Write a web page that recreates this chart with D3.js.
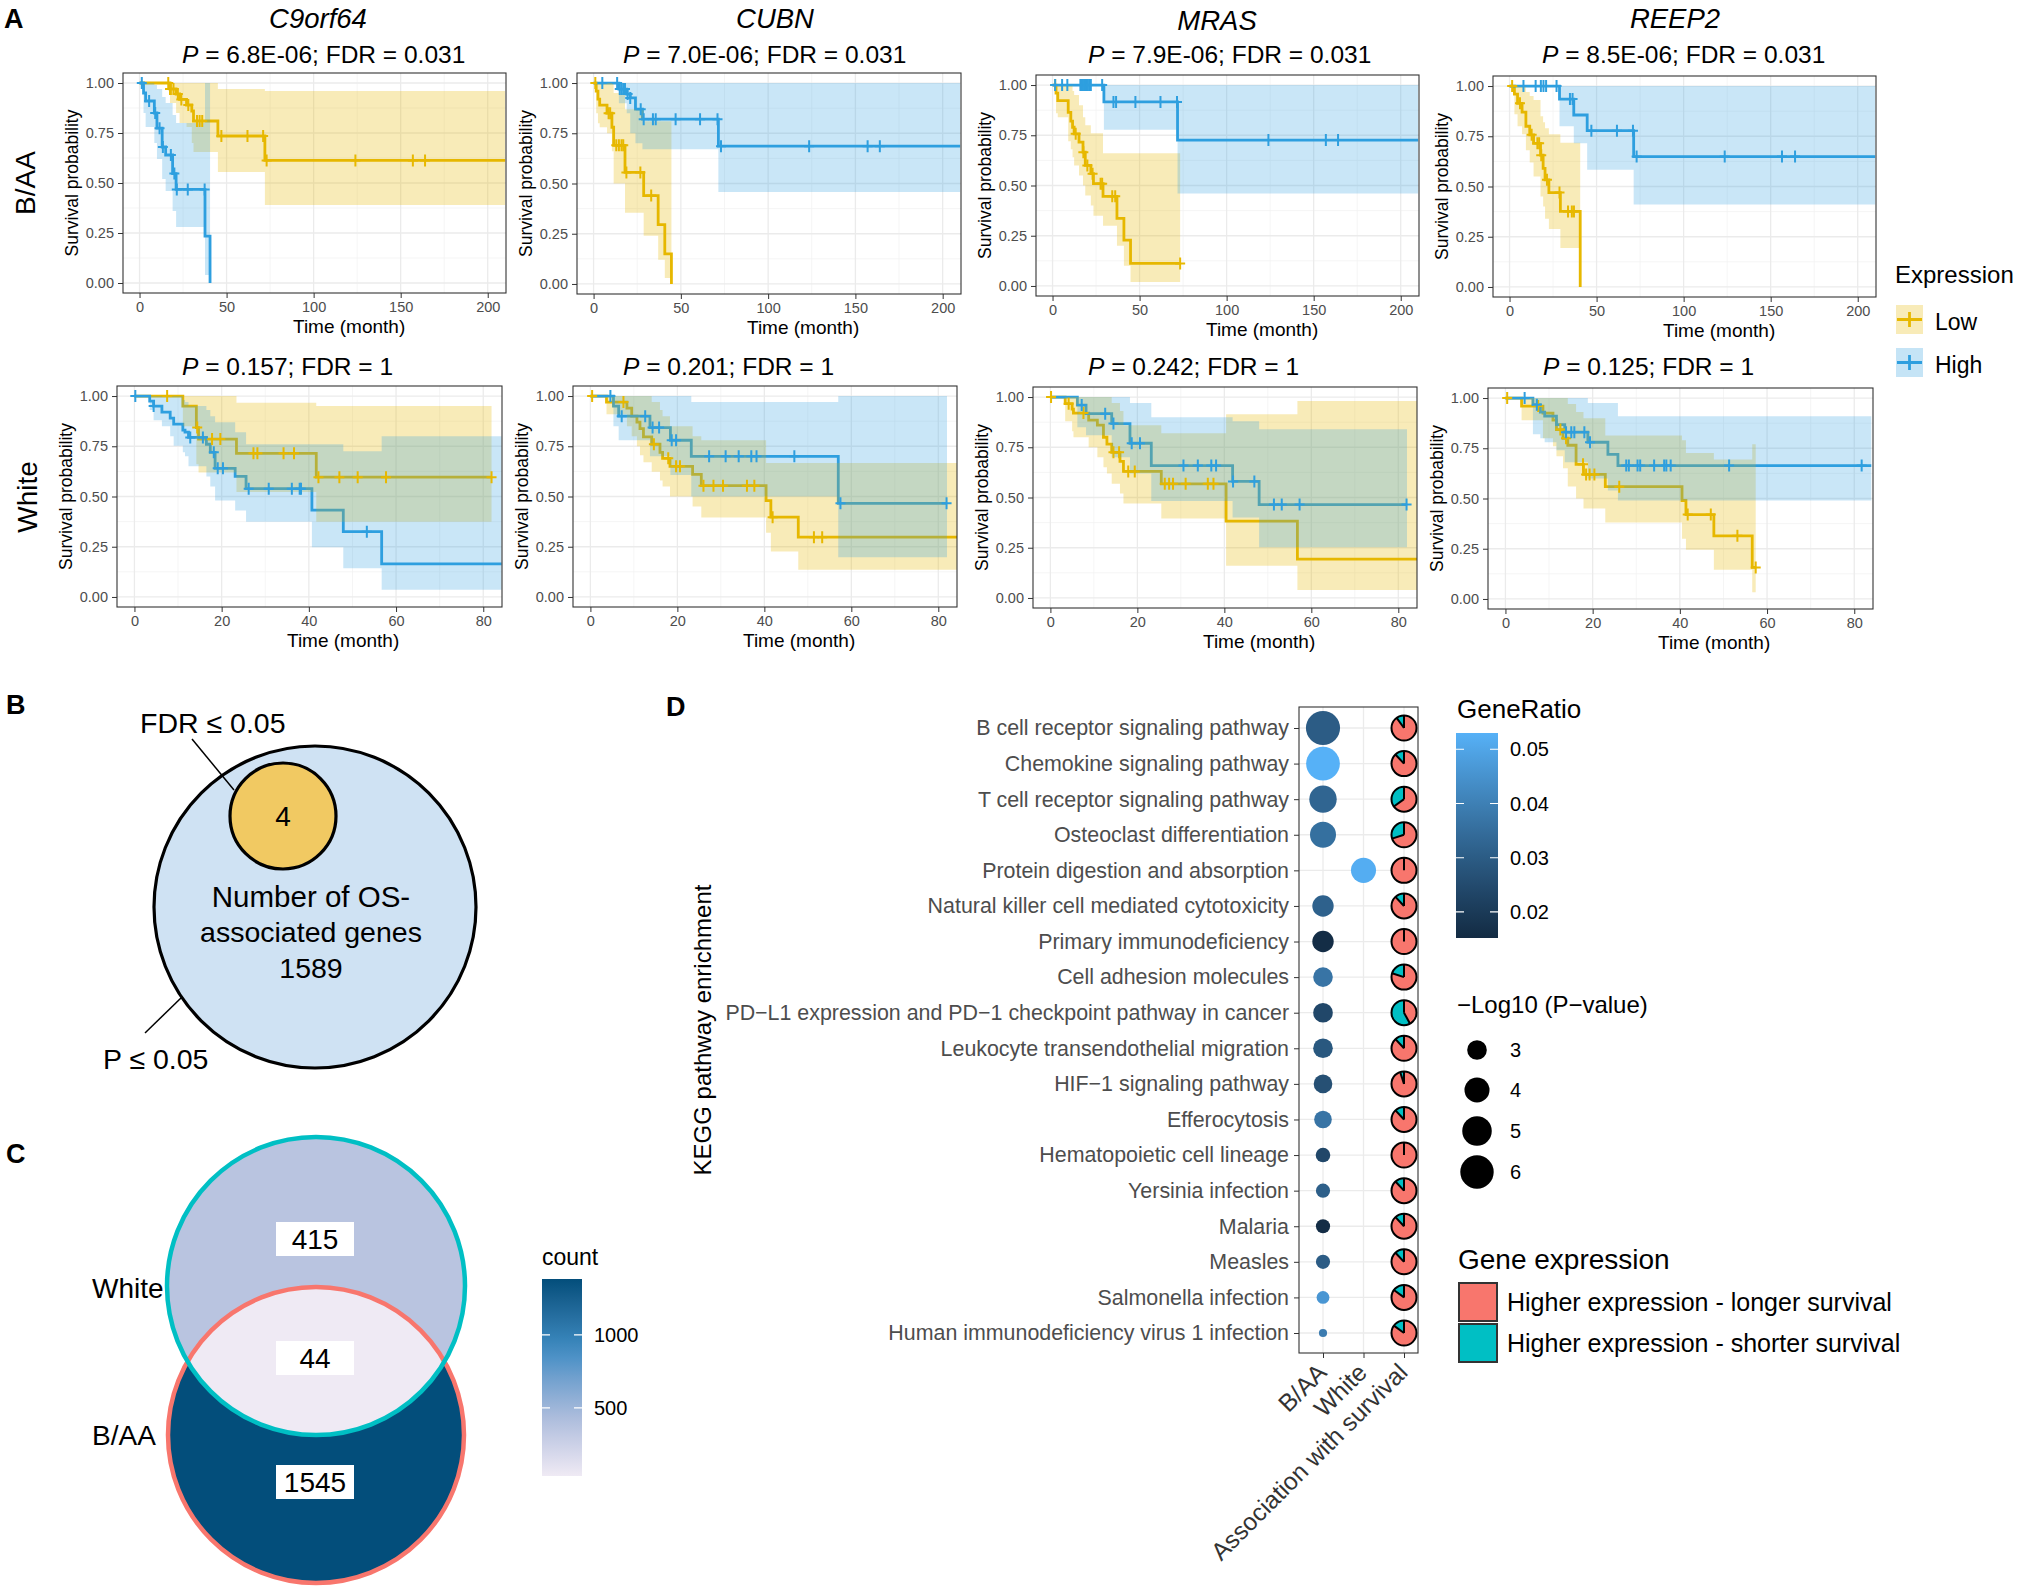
<!DOCTYPE html>
<html><head><meta charset="utf-8">
<script src="https://cdn.jsdelivr.net/npm/d3@7"></script>
<style>body{margin:0;background:#fff}</style>
</head><body><svg id="fig" width="2020" height="1588"></svg>
<script>
const FONT = "'Liberation Sans', Arial, Helvetica, sans-serif";
const LOW_COL = "#E7B800", HIGH_COL = "#2E9FDF";

// ================= DATA =================
// Panel A
const kmGenes = ["C9orf64","CUBN","MRAS","REEP2"];
const kmRows = ["B/AA","White"];
const kmPvalBAA = ["6.8E-06","7.0E-06","7.9E-06","8.5E-06"];
const kmFdrBAA = ["0.031","0.031","0.031","0.031"];
const kmPvalWhite = ["0.157","0.201","0.242","0.125"];
const kmFdrWhite = ["1","1","1","1"];
const kmTicksBAA = [0,50,100,150,200];
const kmTicksWhite = [0,20,40,60,80];
const kmYTicks = [0,0.25,0.5,0.75,1];
const kmGroups = ["Low","High"];
// rows: [time, survival, lower CI, upper CI]
const C9orf64_BAA_Low = [[0,1,1,1],[17.5,0.97,0.90,1],[21,0.945,0.85,1],[23,0.918,0.80,1],[27,0.89,0.78,1],[30,0.86,0.70,1],[31,0.81,0.655,1],[45,0.735,0.555,0.97],[72,0.613,0.39,0.96],[210,0.613,0.39,0.96]];
const C9orf64_BAA_LowCens = [16.5,17.5,18,19.5,22,24,28,33,34.5,36,47,62,71,73,124,157,164];
const C9orf64_BAA_High = [[0,1,1,1],[2.3,0.95,0.85,1],[3.5,0.91,0.78,1],[8.5,0.85,0.70,0.99],[10,0.774,0.62,0.97],[13,0.68,0.52,0.93],[15,0.64,0.46,0.90],[19,0.547,0.36,0.84],[21,0.468,0.28,0.80],[37.6,0.234,0.04,1],[40.5,0,null,null]];
const C9orf64_BAA_HighCens = [1.3,5.5,9,11.5,13.4,18,20,21.4,27.7,37.4];
const CUBN_BAA_Low = [[0,1,1,1],[1.5,0.96,0.85,1],[2.5,0.92,0.80,1],[3.5,0.89,0.78,1],[7.7,0.85,0.75,1],[10.5,0.78,0.66,1],[11.5,0.69,0.50,0.95],[18,0.555,0.355,0.87],[28.7,0.44,0.24,0.81],[37,0.295,0.12,0.81],[40.8,0.15,0.03,0.81],[44.6,0,null,null]];
const CUBN_BAA_LowCens = [1,8.6,9.5,13,14.5,16,17,18.8,26.8,33];
const CUBN_BAA_High = [[0,1,1,1],[14.5,0.97,0.90,1],[19,0.945,0.85,1],[21,0.926,0.75,1],[24,0.87,0.70,1],[28,0.82,0.67,1],[71.5,0.686,0.458,1],[210,0.686,0.458,1]];
const CUBN_BAA_HighCens = [5,13.5,15,16,17,18,19.5,21,27,28.7,34,35.6,47,61,71,73,123.5,157,164];
const MRAS_BAA_Low = [[0,1,1,1],[2,0.96,0.86,1],[3,0.922,0.84,1],[9,0.864,0.72,1],[10.5,0.82,0.68,1],[11.5,0.79,0.64,0.97],[12.4,0.757,0.60,0.95],[15.2,0.716,0.55,0.90],[17.5,0.666,0.50,0.84],[18.8,0.60,0.45,0.80],[22,0.559,0.40,0.76],[23.5,0.509,0.35,0.76],[29,0.446,0.30,0.66],[37,0.336,0.20,0.66],[41,0.228,0.10,0.66],[44.8,0.112,0.02,0.66],[73.3,0.112,0.02,0.66]];
const MRAS_BAA_LowCens = [1.5,13.3,17.7,20,23,27.6,28.5,34.3,36,73.3];
const MRAS_BAA_High = [[0,1,1,1],[29.5,0.916,0.777,1],[71.8,0.726,0.46,1],[210,0.726,0.46,1]];
const MRAS_BAA_HighCens = [1.5,5.5,8.5,16,16.7,17.4,18.1,18.8,19.5,20.2,21,22,28.5,35,36.5,47.6,62,71.5,124,157,164];
const REEP2_BAA_Low = [[0,1,1,1],[2.8,0.96,0.86,1],[4.6,0.914,0.80,1],[7.2,0.87,0.76,1],[9.4,0.80,0.68,0.97],[11.6,0.757,0.62,0.95],[13.8,0.715,0.55,0.93],[17.8,0.656,0.45,0.85],[19.3,0.59,0.40,0.82],[20.4,0.533,0.34,0.79],[22.6,0.47,0.288,0.76],[29.2,0.376,0.194,0.718],[40.6,0,null,null]];
const REEP2_BAA_LowCens = [1.5,6,12.7,16,17,18.2,21.5,28.7,33.6,35.8,37];
const REEP2_BAA_High = [[0,1,1,1],[28.7,0.935,0.80,1],[36.9,0.856,0.715,1],[44.6,0.778,0.583,1],[71.3,0.649,0.41,1],[210,0.649,0.41,1]];
const REEP2_BAA_HighCens = [8,15,18,19.5,21,27,34.7,36.2,47,61.7,70.9,73,123.6,156.5,164];
const C9orf64_White_Low = [[0,1,1,1],[11.1,0.95,0.85,1],[14.2,0.843,0.66,1],[14.7,0.786,0.62,1],[23.4,0.715,0.522,0.967],[41.7,0.596,0.374,0.95],[81.9,0.596,0.374,0.95]];
const C9orf64_White_LowCens = [7.5,14.4,17.8,19.7,27.3,28.2,34.2,36.6,42.2,47,51.2,57.7,81.9];
const C9orf64_White_High = [[0,1,1,1],[3.5,0.975,0.93,1],[4.4,0.95,0.88,1],[6.3,0.92,0.85,1],[8.2,0.89,0.80,1],[9,0.86,0.753,1],[11.1,0.83,0.72,0.98],[11.6,0.82,0.70,0.97],[12.4,0.794,0.65,0.95],[16.5,0.76,0.60,0.93],[17.4,0.72,0.55,0.90],[18.5,0.64,0.48,0.87],[23.1,0.60,0.43,0.82],[25.6,0.539,0.374,0.76],[40.7,0.432,0.247,0.76],[47.9,0.325,0.143,0.725],[56.7,0.165,0.036,0.80],[84.2,0.165,0.036,0.80]];
const C9orf64_White_HighCens = [0.2,4.4,12.8,15.7,18.2,19.1,20.3,26.2,30.8,36.1,37.9,38.2,53.3];
const CUBN_White_Low = [[0,1,1,1],[3.7,0.97,0.91,1],[8.4,0.94,0.85,1],[9.5,0.90,0.80,1],[10.7,0.87,0.75,1],[11.4,0.838,0.705,1],[12.2,0.797,0.67,1],[14.1,0.76,0.623,0.97],[16,0.72,0.58,0.93],[16.6,0.69,0.55,0.90],[18.3,0.65,0.50,0.85],[23.5,0.61,0.45,0.80],[25.5,0.554,0.395,0.78],[40.4,0.479,0.32,0.667],[41.5,0.397,0.226,0.667],[47.8,0.2975,0.136,0.667],[84.3,0.2975,0.136,0.667]];
const CUBN_White_LowCens = [0.4,7.6,14.6,17.9,19.7,20.6,26,28.3,30.5,36,37.7,41.9,51.4,53.3];
const CUBN_White_High = [[0,1,1,1],[5.3,0.95,0.85,1],[6.5,0.90,0.78,1],[13.7,0.843,0.70,1],[18.4,0.78,0.607,1],[23.2,0.70,0.50,0.97],[57,0.466,0.198,1],[82,0.466,0.198,1]];
const CUBN_White_HighCens = [4.6,7.2,12.6,14.3,15.8,18.7,19.7,27.3,31.1,34.1,37,38.2,46.9,57.5,81.9];
const MRAS_White_Low = [[0,1,1,1],[3.4,0.967,0.88,1],[5,0.94,0.83,1],[5.3,0.92,0.80,1],[8.8,0.885,0.75,1],[10.8,0.86,0.70,1],[12.2,0.80,0.65,1],[13,0.766,0.62,1],[14.1,0.725,0.568,0.97],[16,0.68,0.52,0.93],[16.8,0.63,0.47,0.86],[25.5,0.568,0.395,0.82],[40.4,0.382,0.16,0.914],[56.8,0.193,0.04,0.98],[84.3,0.193,0.04,0.98]];
const MRAS_White_LowCens = [0.15,4.2,7.6,14.5,15.8,17.9,19.4,26.3,27.3,28.2,31.1,36.2,37.5];
const MRAS_White_High = [[0,1,1,1],[6.2,0.96,0.85,1],[8.2,0.917,0.81,1],[14.1,0.868,0.70,1],[18.3,0.77,0.62,0.97],[23.2,0.659,0.483,0.90],[41.9,0.58,0.40,0.88],[48,0.465,0.252,0.84],[82,0.465,0.252,0.84]];
const MRAS_White_HighCens = [7.2,12.6,14.5,18.7,20.6,30.6,33.9,37,38.1,42,46.9,51.4,53.2,57.3,81.9];
const REEP2_White_Low = [[0,1,1,1],[3.7,0.96,0.89,1],[8.6,0.925,0.80,1],[10.9,0.89,0.76,1],[11.7,0.843,0.71,1],[13.2,0.80,0.65,1],[14.3,0.765,0.56,0.97],[16.2,0.67,0.50,0.93],[17.9,0.62,0.45,0.90],[22.9,0.559,0.38,0.813],[40.5,0.49,0.30,0.79],[41.4,0.42,0.245,0.727],[47.8,0.314,0.145,0.694],[56.6,0.157,0.033,0.77],[57.4,0.157,0.033,0.77]];
const REEP2_White_LowCens = [0.4,7.5,12.6,13.9,17.8,18.5,19.3,20.4,26.1,41.8,47.1,53.2,57.4];
const REEP2_White_High = [[0,1,1,1],[6.3,0.967,0.82,1],[8,0.93,0.80,1],[9,0.91,0.78,1],[11.7,0.868,0.74,1],[13.6,0.83,0.68,1],[18.9,0.78,0.60,0.975],[23.5,0.72,0.54,0.975],[25.8,0.664,0.49,0.91],[83.9,0.664,0.49,0.91]];
const REEP2_White_HighCens = [4.4,7.2,13.9,15.1,15.8,18.1,19.4,27.7,28.3,30.3,30.9,34.1,36.4,36.9,37.9,51.3,81.7];

// Panel B
const panelBLabels = ["FDR ≤ 0.05","P ≤ 0.05"];
const panelBCounts = [4, 1589];
// Panel C
const vennSets = ["White","B/AA"];
const vennRegionCounts = [415, 44, 1545]; // White only, both, B/AA only
const countTicks = [500, 1000];
// Panel D
const keggPathways = ["B cell receptor signaling pathway","Chemokine signaling pathway","T cell receptor signaling pathway","Osteoclast differentiation","Protein digestion and absorption","Natural killer cell mediated cytotoxicity","Primary immunodeficiency","Cell adhesion molecules","PD\u2212L1 expression and PD\u22121 checkpoint pathway in cancer","Leukocyte transendothelial migration","HIF\u22121 signaling pathway","Efferocytosis","Hematopoietic cell lineage","Yersinia infection","Malaria","Measles","Salmonella infection","Human immunodeficiency virus 1 infection"];
const keggGroup = ["B/AA","B/AA","B/AA","B/AA","White","B/AA","B/AA","B/AA","B/AA","B/AA","B/AA","B/AA","B/AA","B/AA","B/AA","B/AA","B/AA","B/AA"];
const keggGeneRatio = [0.030,0.053,0.0326,0.0356,0.052,0.0315,0.016,0.0368,0.024,0.0288,0.0265,0.0368,0.024,0.031,0.016,0.030,0.046,0.039];
const keggLogP = [6.2,6.1,4.5,4.2,4.0,3.3,3.3,3.0,3.0,3.0,2.85,2.7,2.3,2.25,2.25,2.25,2.1,1.7];
const keggShorterFrac = [0.1,0.12,0.35,0.3,0,0.12,0,0.2,0.58,0.12,0.05,0.12,0,0.12,0.12,0.12,0.15,0.15];
const keggColumns = ["B/AA","White","Association with survival"];
const geneRatioTicks = [0.02,0.03,0.04,0.05];
const logPTicks = [3,4,5,6];
const geneExprLabels = ["Higher expression - longer survival","Higher expression - shorter survival"];

// ================= DRAW =================
const svg = d3.select('#fig').style('font-family', FONT);
const defs = svg.append('defs');

function txt(g, x, y, s, size, opts={}) {
  const t = g.append('text').attr('x',x).attr('y',y).attr('font-size',size)
    .attr('font-family',FONT).attr('fill',opts.fill||'#000').text(s);
  if (opts.anchor) t.attr('text-anchor',opts.anchor);
  if (opts.weight) t.attr('font-weight',opts.weight);
  if (opts.style) t.attr('font-style',opts.style);
  if (opts.rotate!==undefined) t.attr('transform',`rotate(${opts.rotate},${x},${y})`);
  return t;
}

const kmLayout = [
 {x:123,y:73,w:383,h:220},{x:577,y:73,w:384,h:221},{x:1036,y:75,w:383,h:221},{x:1493,y:76,w:383,h:221},
 {x:117,y:386,w:385,h:221},{x:573,y:386,w:384,h:221},{x:1033,y:387,w:384,h:221},{x:1488,y:388,w:385,h:221}];
const pLineX = [182,623,1088,1542,182,623,1088,1543];
const geneTitleX = [318,775,1217,1675];

const kmSeries = [
 [C9orf64_BAA_Low,C9orf64_BAA_LowCens,C9orf64_BAA_High,C9orf64_BAA_HighCens],
 [CUBN_BAA_Low,CUBN_BAA_LowCens,CUBN_BAA_High,CUBN_BAA_HighCens],
 [MRAS_BAA_Low,MRAS_BAA_LowCens,MRAS_BAA_High,MRAS_BAA_HighCens],
 [REEP2_BAA_Low,REEP2_BAA_LowCens,REEP2_BAA_High,REEP2_BAA_HighCens],
 [C9orf64_White_Low,C9orf64_White_LowCens,C9orf64_White_High,C9orf64_White_HighCens],
 [CUBN_White_Low,CUBN_White_LowCens,CUBN_White_High,CUBN_White_HighCens],
 [MRAS_White_Low,MRAS_White_LowCens,MRAS_White_High,MRAS_White_HighCens],
 [REEP2_White_Low,REEP2_White_LowCens,REEP2_White_High,REEP2_White_HighCens]];

function survAt(steps, t){ let s=1; for(const r of steps){ if(r[0]<=t+1e-9) s=r[1]; else break; } return s; }
function ribbonPts(steps){
  const pts=[];
  for(let i=0;i<steps.length;i++){
    const r=steps[i];
    if(r[2]==null){ pts.push([r[0],steps[i-1][2],steps[i-1][3]]); return pts; }
    pts.push([r[0],r[2],r[3]]);
  }
  return pts;
}

kmLayout.forEach((L,i)=>{
  const top = i<4;
  const dom = top ? [-9.5,210.5] : [-4,84.3];
  const ticks = top ? kmTicksBAA : kmTicksWhite;
  const step = ticks[1]-ticks[0];
  const minor = ticks.map(t=>t+step/2).filter(t=>t<dom[1]);
  const xs = d3.scaleLinear().domain(dom).range([L.x, L.x+L.w]);
  const ys = d3.scaleLinear().domain([-0.05,1.05]).range([L.y+L.h, L.y]);
  const g = svg.append('g');
  g.append('rect').attr('x',L.x).attr('y',L.y).attr('width',L.w).attr('height',L.h).attr('fill','#fff');
  const grid = g.append('g');
  minor.forEach(v=>grid.append('line').attr('x1',xs(v)).attr('x2',xs(v)).attr('y1',L.y).attr('y2',L.y+L.h).attr('stroke','#F2F2F2').attr('stroke-width',0.8));
  [0.125,0.375,0.625,0.875].forEach(v=>grid.append('line').attr('y1',ys(v)).attr('y2',ys(v)).attr('x1',L.x).attr('x2',L.x+L.w).attr('stroke','#F2F2F2').attr('stroke-width',0.8));
  ticks.forEach(v=>grid.append('line').attr('x1',xs(v)).attr('x2',xs(v)).attr('y1',L.y).attr('y2',L.y+L.h).attr('stroke','#EBEBEB').attr('stroke-width',1.3));
  kmYTicks.forEach(v=>grid.append('line').attr('y1',ys(v)).attr('y2',ys(v)).attr('x1',L.x).attr('x2',L.x+L.w).attr('stroke','#EBEBEB').attr('stroke-width',1.3));

  const cid='kmclip'+i;
  defs.append('clipPath').attr('id',cid).append('rect').attr('x',L.x).attr('y',L.y).attr('width',L.w).attr('height',L.h);
  const pg = g.append('g').attr('clip-path',`url(#${cid})`);
  const [low,lowC,high,highC] = kmSeries[i];
  const line = d3.line().x(d=>xs(d[0])).y(d=>ys(d[1])).curve(d3.curveStepAfter);
  const area = d3.area().x(d=>xs(d[0])).y0(d=>ys(d[1])).y1(d=>ys(d[2])).curve(d3.curveStepAfter);
  pg.append('path').attr('d',line(low)).attr('fill','none').attr('stroke',LOW_COL).attr('stroke-width',2.8);
  pg.append('path').attr('d',line(high)).attr('fill','none').attr('stroke',HIGH_COL).attr('stroke-width',2.8);
  pg.append('path').attr('d',area(ribbonPts(low))).attr('fill',LOW_COL).attr('fill-opacity',0.28);
  pg.append('path').attr('d',area(ribbonPts(high))).attr('fill',HIGH_COL).attr('fill-opacity',0.26);
  [[low,lowC,LOW_COL],[high,highC,HIGH_COL]].forEach(([st,cs,col])=>{
    cs.forEach(t=>{
      const cx=xs(t), cy=ys(survAt(st,t));
      pg.append('path').attr('d',`M${cx-5},${cy}H${cx+5}M${cx},${cy-6}V${cy+6}`).attr('stroke',col).attr('stroke-width',2);
    });
  });
  g.append('rect').attr('x',L.x).attr('y',L.y).attr('width',L.w).attr('height',L.h).attr('fill','none').attr('stroke','#333').attr('stroke-width',1.1);
  const ax = g.append('g').attr('transform',`translate(0,${L.y+L.h})`)
    .call(d3.axisBottom(xs).tickValues(ticks).tickSize(5).tickPadding(4))
    .attr('font-size',14.5).attr('font-family',FONT);
  ax.select('.domain').remove();
  ax.selectAll('line').attr('stroke','#333');
  ax.selectAll('text').attr('fill','#4D4D4D');
  const ay = g.append('g').attr('transform',`translate(${L.x},0)`)
    .call(d3.axisLeft(ys).tickValues(kmYTicks).tickFormat(d3.format('.2f')).tickSize(5).tickPadding(4))
    .attr('font-size',14.5).attr('font-family',FONT);
  ay.select('.domain').remove();
  ay.selectAll('line').attr('stroke','#333');
  ay.selectAll('text').attr('fill','#4D4D4D');
  txt(g, L.x-45, L.y+L.h/2, 'Survival probability', 17.5, {anchor:'middle', rotate:-90});
  txt(g, L.x+170, L.y+L.h+40, 'Time (month)', 19);
  const pv = top ? kmPvalBAA[i] : kmPvalWhite[i-4];
  const fd = top ? kmFdrBAA[i] : kmFdrWhite[i-4];
  const tt = g.append('text').attr('x',pLineX[i]).attr('y', top?63:375).attr('font-size',24.5).attr('font-family',FONT);
  tt.append('tspan').attr('font-style','italic').text('P');
  tt.append('tspan').text(` = ${pv}; FDR = ${fd}`);
  if (top) txt(g, geneTitleX[i], i===2?30:28, kmGenes[i], 27.5, {anchor:'middle', style:'italic'});
});
txt(svg, 4, 28, 'A', 27, {weight:'bold'});
txt(svg, 35, 183, kmRows[0], 28, {anchor:'middle', rotate:-90});
txt(svg, 37, 497, kmRows[1], 28, {anchor:'middle', rotate:-90});
{
  const g = svg.append('g');
  txt(g, 1895, 283, 'Expression', 24);
  [[LOW_COL,305,kmGroups[0]],[HIGH_COL,348,kmGroups[1]]].forEach(([c,y0,lab])=>{
    g.append('rect').attr('x',1896).attr('y',y0).attr('width',27).attr('height',29).attr('fill',c).attr('fill-opacity',0.28);
    g.append('path').attr('d',`M1897,${y0+14.5}H1922M1909.5,${y0+7}V${y0+22}`).attr('stroke',c).attr('stroke-width',2.8);
    txt(g, 1935, y0+25, lab, 23);
  });
}

// ---------- Panel B ----------
{
  const g = svg.append('g');
  txt(g, 6, 714, 'B', 27, {weight:'bold'});
  g.append('circle').attr('cx',315).attr('cy',907).attr('r',161).attr('fill','#CFE2F3').attr('stroke','#000').attr('stroke-width',3.2);
  g.append('circle').attr('cx',283).attr('cy',816).attr('r',53).attr('fill','#F1C962').attr('stroke','#000').attr('stroke-width',3.2);
  txt(g, 283, 826, String(panelBCounts[0]), 28, {anchor:'middle'});
  txt(g, 311, 907, 'Number of OS-', 29.5, {anchor:'middle'});
  txt(g, 311, 942, 'associated genes', 28.5, {anchor:'middle'});
  txt(g, 311, 978, String(panelBCounts[1]), 28.5, {anchor:'middle'});
  g.append('line').attr('x1',192).attr('y1',739).attr('x2',234).attr('y2',790).attr('stroke','#000').attr('stroke-width',1.5);
  g.append('line').attr('x1',145).attr('y1',1033).attr('x2',182).attr('y2',997).attr('stroke','#000').attr('stroke-width',1.5);
  txt(g, 140, 733, panelBLabels[0], 28.5);
  txt(g, 103, 1069, panelBLabels[1], 28.5);
}

// ---------- Panel C ----------
{
  const g = svg.append('g');
  txt(g, 6, 1163, 'C', 27, {weight:'bold'});
  const countScale = d3.scaleLinear().domain([44, 415, 1000, 1545])
    .range(["#EFEAF4","#B9C4E0","#3E8DC4","#034E7B"]).interpolate(d3.interpolateLab);
  const top = {cx:316, cy:1286, r:149}, bot = {cx:316, cy:1435, r:148};
  defs.append('clipPath').attr('id','clipTop').append('circle').attr('cx',top.cx).attr('cy',top.cy).attr('r',top.r);
  g.append('circle').attr('cx',top.cx).attr('cy',top.cy).attr('r',top.r).attr('fill',countScale(vennRegionCounts[0]));
  g.append('circle').attr('cx',bot.cx).attr('cy',bot.cy).attr('r',bot.r).attr('fill',countScale(vennRegionCounts[2]));
  g.append('circle').attr('cx',bot.cx).attr('cy',bot.cy).attr('r',bot.r).attr('fill',countScale(vennRegionCounts[1])).attr('clip-path','url(#clipTop)');
  g.append('circle').attr('cx',bot.cx).attr('cy',bot.cy).attr('r',bot.r).attr('fill','none').attr('stroke','#F8766D').attr('stroke-width',4.5);
  g.append('circle').attr('cx',top.cx).attr('cy',top.cy).attr('r',top.r).attr('fill','none').attr('stroke','#00BFC4').attr('stroke-width',4.5);
  [[1239,vennRegionCounts[0]],[1358,vennRegionCounts[1]],[1482,vennRegionCounts[2]]].forEach(([cy,v])=>{
    g.append('rect').attr('x',276).attr('y',cy-17).attr('width',78).attr('height',34).attr('fill','#fff');
    txt(g, 315, cy+10, String(v), 28, {anchor:'middle'});
  });
  txt(g, 92, 1298, vennSets[0], 28);
  txt(g, 92, 1445, vennSets[1], 28);
  txt(g, 542, 1265, 'count', 23);
  const y0=1279, y1=1476;
  const cs = d3.scaleLinear().domain([34,1383]).range([y1,y0]);
  const grad = defs.append('linearGradient').attr('id','countGrad').attr('x1',0).attr('y1',1).attr('x2',0).attr('y2',0);
  d3.range(0,1.0001,0.1).forEach(t=>grad.append('stop').attr('offset',t).attr('stop-color',countScale(44+t*1501)));
  g.append('rect').attr('x',542).attr('y',y0).attr('width',40).attr('height',y1-y0).attr('fill','url(#countGrad)');
  countTicks.forEach(v=>{
    g.append('path').attr('d',`M542,${cs(v)}h8M574,${cs(v)}h8`).attr('stroke','#fff').attr('stroke-width',1.2);
    txt(g, 594, cs(v)+7, String(v), 20);
  });
}

// ---------- Panel D ----------
{
  const g = svg.append('g');
  txt(g, 666, 716, 'D', 27, {weight:'bold'});
  const px0=1299, px1=1418, py0=707, py1=1353;
  const yS = d3.scalePoint().domain(keggPathways).range([728,1333]);
  const xS = d3.scalePoint().domain(keggColumns).range([1323,1404]);
  const colS = d3.scaleLinear().domain([0.0152,0.053]).range(["#132B43","#56B1F7"]).interpolate(d3.interpolateLab);
  const rS = d3.scaleLinear().domain([3,6]).range([96,279]);
  const rad = v => Math.sqrt(Math.max(4, rS(v)));
  g.append('rect').attr('x',px0).attr('y',py0).attr('width',px1-px0).attr('height',py1-py0).attr('fill','#fff');
  keggColumns.forEach(c=>g.append('line').attr('x1',xS(c)).attr('x2',xS(c)).attr('y1',py0).attr('y2',py1).attr('stroke','#EBEBEB').attr('stroke-width',1.3));
  keggPathways.forEach(p=>g.append('line').attr('y1',yS(p)).attr('y2',yS(p)).attr('x1',px0).attr('x2',px1).attr('stroke','#EBEBEB').attr('stroke-width',1.3));
  keggPathways.forEach((p,i)=>{
    g.append('circle').attr('cx',xS(keggGroup[i])).attr('cy',yS(p)).attr('r',rad(keggLogP[i])).attr('fill',colS(keggGeneRatio[i]));
  });
  const pie = d3.pie().sort(null).value(d=>d);
  const arc = d3.arc().innerRadius(0).outerRadius(12.5);
  keggPathways.forEach((p,i)=>{
    const f = keggShorterFrac[i];
    const cx = xS(keggColumns[2]), cy = yS(p);
    const pg = g.append('g').attr('transform',`translate(${cx},${cy})`);
    const arcs = pie([1-f, f]);
    arcs.forEach((a,j)=>{ if (a.endAngle-a.startAngle>1e-6) pg.append('path').attr('d',arc(a)).attr('fill', j===0?'#F8766D':'#00BFC4'); });
    pg.append('circle').attr('r',12.5).attr('fill','none').attr('stroke','#000').attr('stroke-width',2);
    const angs = [0]; if (f>0) angs.push(arcs[0].endAngle);
    angs.forEach(a=>pg.append('line').attr('x1',0).attr('y1',0).attr('x2',12.5*Math.sin(a)).attr('y2',-12.5*Math.cos(a)).attr('stroke','#000').attr('stroke-width',2));
  });
  g.append('rect').attr('x',px0).attr('y',py0).attr('width',px1-px0).attr('height',py1-py0).attr('fill','none').attr('stroke','#333').attr('stroke-width',1.1);
  const ay = g.append('g').attr('transform',`translate(${px0},0)`).call(d3.axisLeft(yS).tickSize(5).tickPadding(5))
    .attr('font-size',21.4).attr('font-family',FONT);
  ay.select('.domain').remove(); ay.selectAll('line').attr('stroke','#333'); ay.selectAll('text').attr('fill','#4D4D4D');
  const ax = g.append('g').attr('transform',`translate(0,${py1})`).call(d3.axisBottom(xS).tickSize(5).tickFormat(''));
  ax.select('.domain').remove(); ax.selectAll('line').attr('stroke','#333');
  keggColumns.forEach(c=>{
    txt(g, xS(c)+5, py1+21, c, 24.5, {anchor:'end', rotate:-45, fill:'#333'});
  });
  txt(g, 711, (py0+py1)/2, 'KEGG pathway enrichment', 24, {anchor:'middle', rotate:-90});

  txt(g, 1457, 718, 'GeneRatio', 26);
  const gy0=733, gy1=938;
  const gs = d3.scaleLinear().domain([0.0152,0.053]).range([gy1,gy0]);
  const grad = defs.append('linearGradient').attr('id','grGrad').attr('x1',0).attr('y1',1).attr('x2',0).attr('y2',0);
  d3.range(0,1.0001,0.1).forEach(t=>grad.append('stop').attr('offset',t).attr('stop-color',colS(0.0152+t*(0.053-0.0152))));
  g.append('rect').attr('x',1456).attr('y',gy0).attr('width',42).attr('height',gy1-gy0).attr('fill','url(#grGrad)');
  geneRatioTicks.forEach(v=>{
    g.append('path').attr('d',`M1456,${gs(v)}h8M1490,${gs(v)}h8`).attr('stroke','#fff').attr('stroke-width',1.2);
    txt(g, 1510, gs(v)+7, v.toFixed(2), 20);
  });
  txt(g, 1457, 1013, '\u2212Log10 (P\u2212value)', 24);
  const sy = [1050,1090,1131,1172];
  logPTicks.forEach((v,k)=>{
    g.append('circle').attr('cx',1477).attr('cy',sy[k]).attr('r',rad(v)).attr('fill','#000');
    txt(g, 1510, sy[k]+7, String(v), 20);
  });
  txt(g, 1458, 1269, 'Gene expression', 28);
  [['#F8766D',1283],['#00BFC4',1324]].forEach(([c,y],k)=>{
    g.append('rect').attr('x',1459).attr('y',y).attr('width',38).attr('height',38).attr('fill',c).attr('stroke','#333').attr('stroke-width',2);
    txt(g, 1507, y+28, geneExprLabels[k], 25);
  });
}
</script></body></html>
